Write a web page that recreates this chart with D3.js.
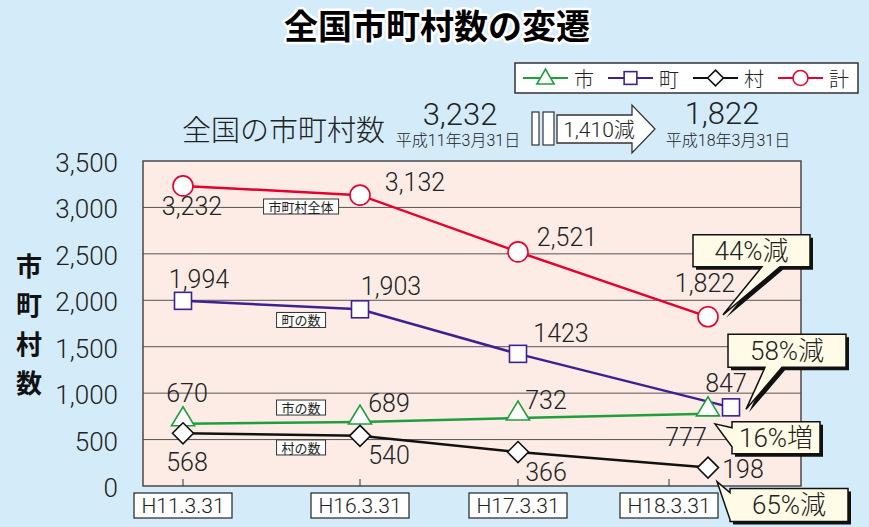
<!DOCTYPE html>
<html>
<head>
<meta charset="utf-8">
<script src="https://cdn.jsdelivr.net/npm/d3@7"></script>
<style>
    body { margin: 0; background: #d4ebfa; }
    svg { display: block; font-family: Roboto, "Noto Sans CJK JP", sans-serif; font-weight: 300; }
</style>
</head>
<body>
<div id="chart"></div>
<script>
(function () {

    "use strict";

    //Values
    var categories = ["H11.3.31", "H16.3.31", "H17.3.31", "H18.3.31"];
    var shiValues = [670, 689, 732, 777];
    var machiValues = [1994, 1903, 1423, 847];
    var muraValues = [568, 540, 366, 198];
    var totalValues = [3232, 3132, 2521, 1822];
    var shiLabels = ["670", "689", "732", "777"];
    var machiLabels = ["1,994", "1,903", "1423", "847"];
    var muraLabels = ["568", "540", "366", "198"];
    var totalLabels = ["3,232", "3,132", "2,521", "1,822"];
    var yTicks = [0, 500, 1000, 1500, 2000, 2500, 3000, 3500];
    var changeTexts = { "市": "16%増", "町": "58%減", "村": "65%減", "計": "44%減" };

    var width = 869, height = 527;
    var plot = { left: 143, right: 801, top: 161, bottom: 486 };
    var cream = "#fffbe6";

    //Series, in legend order. Label offsets are relative to each marker.
    var series = [
        { name: "市", values: shiValues, labels: shiLabels, color: "#1f9e3c", symbol: "triangle",
          tag: "市の数", tagValue: 845, shiftLast: 0,
          labelPos: [[4, -22], [29, -10], [28, -9], [-22, 32]],
          callout: { box: [24, 8, 88, 32], tip: [7, 10], edge: "left", base: [14, 33] } },
        { name: "町", values: machiValues, labels: machiLabels, color: "#3c2190", symbol: "square",
          tag: "町の数", tagValue: 1788, shiftLast: 23,
          labelPos: [[16, -13], [31, -14], [43, -12], [-5, -15]],
          callout: { box: [-3, -73, 118, 33], tip: [15, 2], edge: "bottom", base: [34, 51] } },
        { name: "村", values: muraValues, labels: muraLabels, color: "#111111", symbol: "diamond",
          tag: "村の数", tagValue: 415, shiftLast: 0,
          labelPos: [[4, 38], [29, 28], [28, 29], [35, 10]],
          callout: { box: [22, 21, 118, 33], tip: [9, 14], edge: "left", base: [25, 52] } },
        { name: "計", values: totalValues, labels: totalLabels, color: "#e5002d", symbol: "circle",
          tag: "市町村全体", tagValue: 3010, shiftLast: 0,
          labelPos: [[9, 29], [55, -4], [49, -6], [-3, -25]],
          callout: { box: [-15, -82, 117, 32], tip: [15, -2], edge: "bottom", base: [54, 72] } }
    ];

    var svg = d3.select("#chart")
        .append("svg")
        .attr("width", width)
        .attr("height", height);

    svg.append("rect")
        .attr("width", width)
        .attr("height", height)
        .attr("fill", "#d4ebfa");

    //The picture is schematic: axis ticks and points are not evenly spaced
    var xTick = d3.scaleOrdinal().domain(categories).range([183, 360, 518, 669]);
    var xPoint = d3.scaleOrdinal().domain(categories).range([183, 360, 518, 708]);
    var y = d3.scaleLinear().domain([0, 3500]).range([plot.bottom, plot.top]);

    function pointOf(s, i) {
        var px = xPoint(categories[i]) + (i === categories.length - 1 ? s.shiftLast : 0);
        return [px, y(s.values[i])];
    }

    //Title with a white halo
    svg.append("text")
        .attr("x", 437)
        .attr("y", 24)
        .attr("text-anchor", "middle")
        .attr("dominant-baseline", "central")
        .style("font-family", "'Noto Sans CJK JP'")
        .style("font-weight", 700)
        .style("font-size", "34px")
        .attr("stroke", "#fff")
        .attr("stroke-width", 5)
        .attr("stroke-linejoin", "round")
        .attr("paint-order", "stroke")
        .attr("fill", "#000")
        .text("全国市町村数の変遷");

    //Header: 3,232 -> 1,822
    svg.append("text")
        .attr("x", 182).attr("y", 128)
        .attr("dominant-baseline", "central")
        .style("font-family", "'Noto Sans CJK JP'")
        .style("font-size", "29px")
        .attr("fill", "#222")
        .text("全国の市町村数");

    svg.append("text")
        .attr("x", 460).attr("y", 125)
        .attr("text-anchor", "middle")
        .style("font-size", "31px")
        .attr("fill", "#222")
        .text(d3.format(",")(totalValues[0]));

    svg.append("text")
        .attr("x", 722).attr("y", 124)
        .attr("text-anchor", "middle")
        .style("font-size", "31px")
        .attr("fill", "#222")
        .text(d3.format(",")(totalValues[3]));

    svg.append("text")
        .attr("x", 458).attr("y", 140)
        .attr("text-anchor", "middle")
        .attr("dominant-baseline", "central")
        .style("font-size", "16px")
        .attr("fill", "#222")
        .text("平成11年3月31日");

    svg.append("text")
        .attr("x", 728).attr("y", 140)
        .attr("text-anchor", "middle")
        .attr("dominant-baseline", "central")
        .style("font-size", "16px")
        .attr("fill", "#222")
        .text("平成18年3月31日");

    svg.selectAll(".gap")
        .data([[532, 7], [543, 11]])
        .enter().append("rect")
        .attr("x", function (d) { return d[0]; })
        .attr("y", 112)
        .attr("width", function (d) { return d[1]; })
        .attr("height", 33)
        .attr("fill", "#fff")
        .attr("stroke", "#333")
        .attr("stroke-width", 1.2);

    svg.append("polygon")
        .attr("points", "557,115 632,115 632,105 655,129 632,153 632,143 557,143")
        .attr("fill", "#fff")
        .attr("stroke", "#333")
        .attr("stroke-width", 1.3);

    svg.append("text")
        .attr("x", 599).attr("y", 130)
        .attr("text-anchor", "middle")
        .attr("dominant-baseline", "central")
        .style("font-size", "21px")
        .attr("fill", "#222")
        .text(d3.format(",")(totalValues[0] - totalValues[3]) + "減");

    //Plot area
    svg.append("rect")
        .attr("x", plot.left)
        .attr("y", plot.top)
        .attr("width", plot.right - plot.left)
        .attr("height", plot.bottom - plot.top)
        .attr("fill", "#fdece5");

    svg.append("g")
        .selectAll("line")
        .data(yTicks.slice(1, -1))
        .enter().append("line")
        .attr("x1", plot.left).attr("x2", plot.right)
        .attr("y1", function (d) { return y(d); })
        .attr("y2", function (d) { return y(d); })
        .attr("stroke", "#555")
        .attr("stroke-width", 1);

    svg.append("rect")
        .attr("x", plot.left)
        .attr("y", plot.top)
        .attr("width", plot.right - plot.left)
        .attr("height", plot.bottom - plot.top)
        .attr("fill", "none")
        .attr("stroke", "#4a4a4a")
        .attr("stroke-width", 1.5);

    //Y axis
    svg.append("g")
        .selectAll("text")
        .data(yTicks)
        .enter().append("text")
        .attr("x", 118)
        .attr("y", function (d) { return y(d) + 2; })
        .attr("text-anchor", "end")
        .attr("dominant-baseline", "central")
        .style("font-size", "26px")
        .attr("fill", "#222")
        .text(function (d) { return d3.format(",")(d); });

    svg.append("g")
        .selectAll("text")
        .data("市町村数".split(""))
        .enter().append("text")
        .attr("x", 29)
        .attr("y", function (d, i) { return 264 + i * 39; })
        .attr("text-anchor", "middle")
        .attr("dominant-baseline", "central")
        .style("font-family", "'Noto Sans CJK JP'")
        .style("font-weight", 700)
        .style("font-size", "26px")
        .attr("fill", "#111")
        .text(function (d) { return d; });

    //X axis: ticks and boxed labels
    var xg = svg.append("g").selectAll("g")
        .data(categories)
        .enter().append("g")
        .attr("transform", function (d) { return "translate(" + xTick(d) + ",0)"; });

    xg.append("line")
        .attr("y1", plot.bottom).attr("y2", plot.bottom - 7)
        .attr("stroke", "#333");

    xg.append("rect")
        .attr("x", -49).attr("y", 493)
        .attr("width", 98).attr("height", 25)
        .attr("fill", "#fff")
        .attr("stroke", "#222")
        .attr("stroke-width", 1.2);

    xg.append("text")
        .attr("y", 506)
        .attr("text-anchor", "middle")
        .attr("dominant-baseline", "central")
        .style("font-size", "21px")
        .attr("fill", "#222")
        .text(function (d) { return d; });

    //Series tags between the first two dates
    series.forEach(function (s) {
        var cx = xPoint(categories[0]) + (xPoint(categories[1]) - xPoint(categories[0])) * 0.667;
        var cy = y(s.tagValue);
        var w = s.tag.length * 13 + 10;
        svg.append("rect")
            .attr("x", cx - w / 2).attr("y", cy - 7.5)
            .attr("width", w).attr("height", 15)
            .attr("fill", "#fff")
            .attr("stroke", "#333")
            .attr("stroke-width", 1);
        svg.append("text")
            .attr("x", cx).attr("y", cy)
            .attr("text-anchor", "middle")
            .attr("dominant-baseline", "central")
            .style("font-family", "'Noto Sans CJK JP'")
            .style("font-weight", 400)
            .style("font-size", "13px")
            .attr("fill", "#222")
            .text(s.tag);
    });

    function drawMarker(sel, s, k) {
        var m;
        if (s.symbol === "circle") {
            m = sel.append("circle").attr("r", 10 * k);
        } else if (s.symbol === "square") {
            m = sel.append("rect").attr("x", -8.5 * k).attr("y", -8.5 * k)
                .attr("width", 17 * k).attr("height", 17 * k);
        } else if (s.symbol === "diamond") {
            m = sel.append("polygon").attr("points", [[0, -10.5 * k], [10.5 * k, 0], [0, 10.5 * k], [-10.5 * k, 0]].join(" "));
        } else {
            var b = k < 1 ? 6 : 2, t = k < 1 ? -9 : -17;
            m = sel.append("polygon").attr("points", [[-11.5 * k, b], [11.5 * k, b], [0, t]].join(" "));
        }
        m.attr("fill", "#fff").attr("stroke", s.color).attr("stroke-width", 1.6);
    }

    //Lines first, then markers on top
    var line = d3.line();
    series.forEach(function (s) {
        svg.append("path")
            .attr("d", line(s.values.map(function (v, i) { return pointOf(s, i); })))
            .attr("fill", "none")
            .attr("stroke", s.color)
            .attr("stroke-width", 2.5);
    });

    series.forEach(function (s) {
        s.values.forEach(function (v, i) {
            var p = pointOf(s, i);
            drawMarker(svg.append("g").attr("transform", "translate(" + p[0] + "," + p[1] + ")"), s, 1);
            svg.append("text")
                .attr("x", p[0] + s.labelPos[i][0])
                .attr("y", p[1] + s.labelPos[i][1])
                .attr("text-anchor", "middle")
                .style("font-size", "25px")
                .attr("fill", "#222")
                .text(s.labels[i]);
        });
    });

    //Callouts for the change in each series
    series.forEach(function (s) {
        var c = s.callout;
        var p = pointOf(s, categories.length - 1);
        var bx = c.box[0], by = c.box[1], bw = c.box[2], bh = c.box[3];
        var pts;
        if (c.edge === "bottom") {
            pts = [[bx, by], [bx + bw, by], [bx + bw, by + bh], [c.base[1], by + bh], c.tip, [c.base[0], by + bh], [bx, by + bh]];
        } else {
            pts = [[bx, by], [bx + bw, by], [bx + bw, by + bh], [bx, by + bh], [bx, c.base[1]], c.tip, [bx, c.base[0]]];
        }
        var g = svg.append("g").attr("transform", "translate(" + p[0] + "," + p[1] + ")");
        g.append("polygon")
            .attr("points", pts.map(function (q) { return [q[0] + 3, q[1] + 3]; }).join(" "))
            .attr("fill", "#111");
        g.append("polygon")
            .attr("points", pts.join(" "))
            .attr("fill", cream)
            .attr("stroke", "#111")
            .attr("stroke-width", 1.5)
            .attr("stroke-linejoin", "miter");
        g.append("text")
            .attr("x", bx + bw / 2)
            .attr("y", by + bh / 2)
            .attr("text-anchor", "middle")
            .attr("dominant-baseline", "central")
            .style("font-size", "26px")
            .attr("fill", "#222")
            .text(changeTexts[s.name]);
    });

    //Legend
    svg.append("rect")
        .attr("x", 515).attr("y", 63)
        .attr("width", 343).attr("height", 30)
        .attr("fill", "#fff")
        .attr("stroke", "#333")
        .attr("stroke-width", 1.5);

    var lg = svg.append("g").selectAll("g")
        .data(series)
        .enter().append("g")
        .attr("transform", function (d, i) { return "translate(" + (523 + i * 85) + ",78)"; });

    lg.append("line")
        .attr("x1", 0).attr("x2", 45)
        .attr("stroke", function (d) { return d.color; })
        .attr("stroke-width", 2);

    lg.each(function (d) {
        drawMarker(d3.select(this).append("g").attr("transform", "translate(22.5,0)"), d, 0.75);
    });

    lg.append("text")
        .attr("x", 61)
        .attr("text-anchor", "middle")
        .attr("dominant-baseline", "central")
        .style("font-family", "'Noto Sans CJK JP'")
        .style("font-size", "20px")
        .attr("fill", "#222")
        .text(function (d) { return d.name; });

})();
</script>
</body>
</html>
